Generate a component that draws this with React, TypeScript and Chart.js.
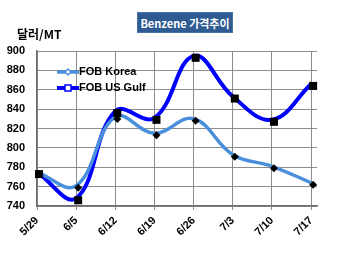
import React, { useEffect, useRef } from "react";
import { Chart, registerables } from "chart.js";

Chart.register(...registerables);

const categories = ["5/29", "6/5", "6/12", "6/19", "6/26", "7/3", "7/10", "7/17"];
const fobKorea = [775, 761, 832, 815, 830, 793, 781, 764];
const fobUSGulf = [775, 748, 838, 831, 895, 853, 829, 866];
const yTicks = [740, 760, 780, 800, 820, 840, 860, 880, 900];
const seriesNames = ["FOB Korea", "FOB US Gulf"];

const KOREA_COLOR = "#4a8fdb";
const GULF_COLOR = "#0000ff";
const FONT = "Arial, 'Liberation Sans', sans-serif";

const markerPlugin = {
  id: "markerShadow",
  afterDatasetsDraw(chart: any) {
    const ctx = chart.ctx;
    ctx.save();
    chart.data.datasets.forEach((ds: any, di: number) => {
      const meta = chart.getDatasetMeta(di);
      meta.data.forEach((pt: any) => {
        const x = pt.x + 2;
        const y = pt.y + 2;
        ctx.fillStyle = "#000";
        ctx.beginPath();
        if (di === 0) {
          ctx.moveTo(x, y - 4);
          ctx.lineTo(x + 4, y);
          ctx.lineTo(x, y + 4);
          ctx.lineTo(x - 4, y);
          ctx.closePath();
        } else {
          ctx.rect(x - 4, y - 4, 8, 8);
        }
        ctx.fill();
      });
    });
    ctx.restore();
  },
  afterDraw(chart: any) {
    const ctx = chart.ctx;
    ctx.save();
    const items = [
      { label: seriesNames[0], color: KOREA_COLOR, width: 3.5, diamond: true, y: 72 },
      { label: seriesNames[1], color: GULF_COLOR, width: 4, diamond: false, y: 88 },
    ];
    items.forEach((it) => {
      ctx.strokeStyle = it.color;
      ctx.lineWidth = it.width;
      ctx.beginPath();
      ctx.moveTo(57, it.y);
      ctx.lineTo(79, it.y);
      ctx.stroke();
      ctx.fillStyle = "#fff";
      ctx.lineWidth = 1.5;
      ctx.beginPath();
      if (it.diamond) {
        ctx.moveTo(68, it.y - 3);
        ctx.lineTo(71, it.y);
        ctx.lineTo(68, it.y + 3);
        ctx.lineTo(65, it.y);
        ctx.closePath();
      } else {
        ctx.rect(65, it.y - 3, 6, 6);
      }
      ctx.fill();
      ctx.stroke();
      ctx.fillStyle = "#000";
      ctx.font = "bold 11px " + FONT;
      ctx.textBaseline = "middle";
      ctx.textAlign = "left";
      ctx.fillText(it.label, 79, it.y);
    });
    ctx.restore();
  },
};

export default function App() {
  const ref = useRef<HTMLCanvasElement>(null);
  useEffect(() => {
    if (!ref.current) return;
    const chart = new Chart(ref.current, {
      type: "line",
      data: {
        datasets: [
          {
            label: seriesNames[0],
            data: fobKorea.map((v, i) => ({ x: i, y: v })),
            borderColor: KOREA_COLOR,
            borderWidth: 3.5,
            pointRadius: 0,
            tension: 0.4,
            fill: false,
          },
          {
            label: seriesNames[1],
            data: fobUSGulf.map((v, i) => ({ x: i, y: v })),
            borderColor: GULF_COLOR,
            borderWidth: 4,
            pointRadius: 0,
            tension: 0.4,
            fill: false,
          },
        ],
      },
      plugins: [markerPlugin],
      options: {
        animation: false,
        responsive: false,
        maintainAspectRatio: false,
        layout: { padding: { top: 51, right: 33, left: 0, bottom: 0 } },
        plugins: { legend: { display: false }, tooltip: { enabled: false } },
        scales: {
          x: {
            type: "linear",
            min: 0,
            max: 7.15,
            afterBuildTicks: (scale: any) => {
              scale.ticks = categories.map((_, i) => ({ value: i }));
            },
            afterFit: (scale: any) => {
              scale.height = 49;
            },
            grid: { color: "#8c8c8c", lineWidth: 1, drawTicks: true, tickLength: 4 },
            border: { color: "#6e6e6e", width: 1.5 },
            ticks: {
              autoSkip: false,
              maxRotation: 45,
              minRotation: 45,
              color: "#000",
              font: { family: FONT, size: 11, weight: "bold" },
              callback: (v: any) => categories[v] ?? "",
              padding: 4,
            },
          },
          y: {
            min: 740,
            max: 900,
            afterBuildTicks: (scale: any) => {
              scale.ticks = yTicks.map((v) => ({ value: v }));
            },
            afterFit: (scale: any) => {
              scale.width = 37;
            },
            grid: { color: "#8c8c8c", lineWidth: 1, drawTicks: false },
            border: { color: "#6e6e6e", width: 1.5 },
            ticks: {
              color: "#000",
              font: { family: FONT, size: 11, weight: "bold" },
              padding: 12,
            },
          },
        },
      },
    } as any);
    return () => chart.destroy();
  }, []);

  return (
    <div style={{ position: "fixed", left: 0, top: 0, width: 350, height: 255, background: "#fff" }}>
      <canvas ref={ref} width={350} height={255} style={{ position: "absolute", left: 0, top: 0 }} />
      <div
        style={{
          position: "absolute",
          left: 137,
          top: 12,
          width: 96,
          height: 21,
          background: "#2f5b93",
          color: "#fff",
          fontFamily: "'Noto Sans CJK KR', Arial, sans-serif",
          fontWeight: "bold",
          fontSize: 11,
          lineHeight: "21px",
          textAlign: "center",
          boxSizing: "border-box",
          border: "1px solid #4a72a8",
        }}
      >
        Benzene 가격추이
      </div>
      <div
        style={{
          position: "absolute",
          left: 17,
          top: 27,
          fontFamily: "'Noto Sans CJK KR', Arial, sans-serif",
          fontWeight: "bold",
          fontSize: 12,
          color: "#000",
          lineHeight: "14px",
        }}
      >
        달러/MT
      </div>
    </div>
  );
}
